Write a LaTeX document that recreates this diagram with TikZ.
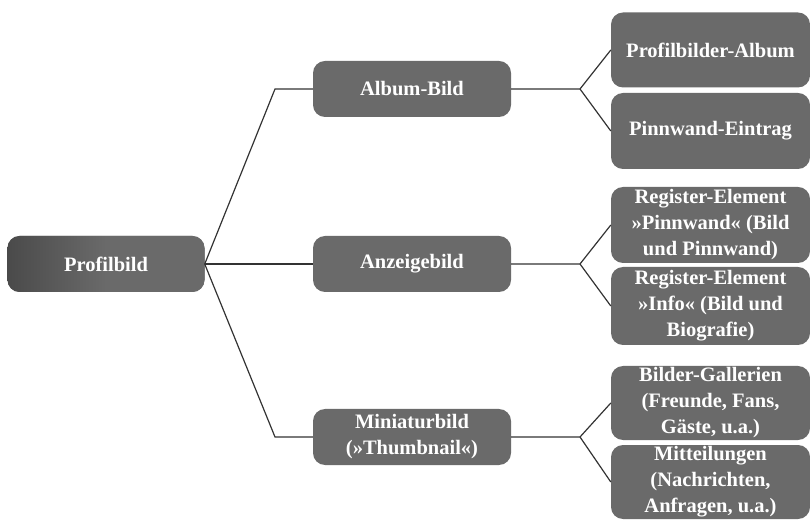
\documentclass[tikz,border=0pt]{standalone}
\usepackage{fontspec}
\setmainfont{Liberation Serif}
\definecolor{boxgray}{HTML}{6A6A6A}
\definecolor{linegray}{HTML}{333333}
\tikzset{
  x=1pt, y=1pt,
  box/.style={draw=none, fill=boxgray, rounded corners=12pt, text=white,
    font=\fontsize{20.5}{26}\selectfont\bfseries, align=center, inner sep=0pt},
  midbox/.style={box, minimum width=198pt, minimum height=56pt},
  rbox/.style={box, minimum width=199pt},
  conn/.style={draw=linegray, line width=1.2pt}
}
\begin{document}
\begin{tikzpicture}
\useasboundingbox (0,0) rectangle (810,519);
\node[midbox, minimum width=197pt, left color=boxgray!70!black, right color=boxgray, middle color=boxgray, shading angle=90] (P) at (106,255) {Profilbild};
\node[midbox] (A) at (412,430) {Album-Bild};
\node[midbox] (Z) at (412,255) {Anzeigebild};
\node[midbox] (M) at (412,82) {Miniaturbild\\(»Thumbnail«)};
\node[rbox, minimum height=75pt] (R1) at (710.5,469) {Profilbilder-Album};
\node[rbox, minimum height=76pt] (R2) at (710.5,388) {Pinnwand-Eintrag};
\node[rbox, minimum height=76pt] (R3) at (710.5,294) {Register-Element\\»Pinnwand« (Bild\\und Pinnwand)};
\node[rbox, minimum height=78pt] (R4) at (710.5,213) {Register-Element\\»Info« (Bild und\\Biografie)};
\node[rbox, minimum height=74pt] (R5) at (710.5,116) {Bilder-Gallerien\\(Freunde, Fans,\\Gäste, u.a.)};
\node[rbox, minimum height=74pt] (R6) at (710.5,37) {Mitteilungen\\(Nachrichten,\\Anfragen, u.a.)};
\coordinate (ka) at (275,430);
\coordinate (km) at (275,82);
\coordinate (ba) at (580,430);
\coordinate (bz) at (580,255);
\coordinate (bm) at (580,82);
\draw[conn] (P.east) -- (ka) -- (A.west);
\draw[conn] (P.east) -- (Z.west);
\draw[conn] (P.east) -- (km) -- (M.west);
\draw[conn] (A.east) -- (ba) -- (R1.west);
\draw[conn] (ba) -- (R2.west);
\draw[conn] (Z.east) -- (bz) -- (R3.west);
\draw[conn] (bz) -- (R4.west);
\draw[conn] (M.east) -- (bm) -- (R5.west);
\draw[conn] (bm) -- (R6.west);
\end{tikzpicture}
\end{document}
